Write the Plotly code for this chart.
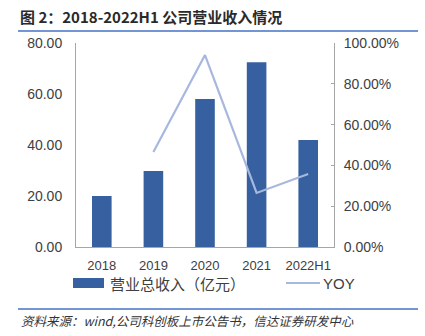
import plotly.graph_objects as go

categories = ["2018", "2019", "2020", "2021", "2022H1"]
revenue = [20.0, 29.8, 58.0, 72.5, 42.0]
yoy = [None, 46.6, 94.1, 26.5, 35.8]
left_ticks = [0, 20, 40, 60, 80]
right_ticks = [0, 20, 40, 60, 80, 100]

NUM_FONT = "Liberation Sans, Arial, sans-serif"
CJK_FONT = "Noto Sans CJK SC, sans-serif"
BAR_COLOR = "#36609F"
LINE_COLOR = "#A7B8DE"

# plot area geometry (pixels)
L, R, T, B = 76, 91, 43, 89
PW, PH = 425 - L - R, 336 - T - B


def px_x(x):
    return (x - L) / PW


def px_y(y):
    return (336 - B - y) / PH


fig = go.Figure()
fig.add_trace(go.Bar(
    x=categories, y=revenue, name="营业总收入（亿元）",
    marker=dict(color=BAR_COLOR, line=dict(width=0)), width=0.38,
))
fig.add_trace(go.Scatter(
    x=categories, y=yoy, name="YOY", yaxis="y2", mode="lines",
    line=dict(color=LINE_COLOR, width=2.2),
))

fig.update_layout(
    width=425, height=336,
    margin=dict(l=L, r=R, t=T, b=B),
    paper_bgcolor="white", plot_bgcolor="white",
    font=dict(family=NUM_FONT, color="#404040", size=14),
    showlegend=False,
    xaxis=dict(showline=True, linecolor="#A6A6A6", linewidth=1, ticks="",
               showgrid=False, ticklabelstandoff=6,
               tickfont=dict(size=13, family=NUM_FONT)),
    yaxis=dict(range=[0, 80], tickvals=left_ticks, tickformat=".2f",
               showline=True, linecolor="#A6A6A6", linewidth=1, ticks="",
               showgrid=False, zeroline=False, ticklabelstandoff=10,
               tickfont=dict(size=14, family=NUM_FONT)),
    yaxis2=dict(range=[0, 100], tickvals=right_ticks,
                ticktext=[f"{v:.2f}%" for v in right_ticks],
                overlaying="y", side="right", showline=True, linecolor="#A6A6A6",
                linewidth=1, ticks="inside", ticklen=3, tickcolor="#A6A6A6",
                showgrid=False, zeroline=False, ticklabelstandoff=6,
                tickfont=dict(size=14, family=NUM_FONT)),
    annotations=[
        dict(text="<b>图 2：2018-2022H1 公司营业收入情况</b>", xref="paper", yref="paper",
             x=px_x(18), y=px_y(16), xanchor="left", yanchor="middle", showarrow=False,
             font=dict(family=CJK_FONT, size=15, color="#2a2a2a")),
        dict(text="<i>资料来源：wind,公司科创板上市公告书，信达证券研发中心</i>", xref="paper", yref="paper",
             x=px_x(19), y=px_y(320), xanchor="left", yanchor="middle", showarrow=False,
             font=dict(family=CJK_FONT, size=12.5, color="#333333")),
        dict(text="营业总收入（亿元）", xref="paper", yref="paper",
             x=px_x(108), y=px_y(283), xanchor="left", yanchor="middle", showarrow=False,
             font=dict(family=CJK_FONT, size=15, color="#404040")),
        dict(text="YOY", xref="paper", yref="paper",
             x=px_x(321), y=px_y(283), xanchor="left", yanchor="middle", showarrow=False,
             font=dict(family=NUM_FONT, size=15, color="#404040")),
    ],
    shapes=[
        dict(type="line", xref="paper", yref="paper", x0=px_x(18), x1=px_x(418),
             y0=px_y(31), y1=px_y(31), line=dict(color="#4472C4", width=1.5)),
        dict(type="line", xref="paper", yref="paper", x0=px_x(18), x1=px_x(418),
             y0=px_y(309), y1=px_y(309), line=dict(color="#4472C4", width=1.5)),
        dict(type="rect", xref="paper", yref="paper", x0=px_x(73), x1=px_x(104),
             y0=px_y(288), y1=px_y(278), fillcolor=BAR_COLOR, line=dict(width=0)),
        dict(type="line", xref="paper", yref="paper", x0=px_x(286), x1=px_x(320),
             y0=px_y(283), y1=px_y(283), line=dict(color=LINE_COLOR, width=2.2)),
    ],
)

fig.write_html("out.html")
